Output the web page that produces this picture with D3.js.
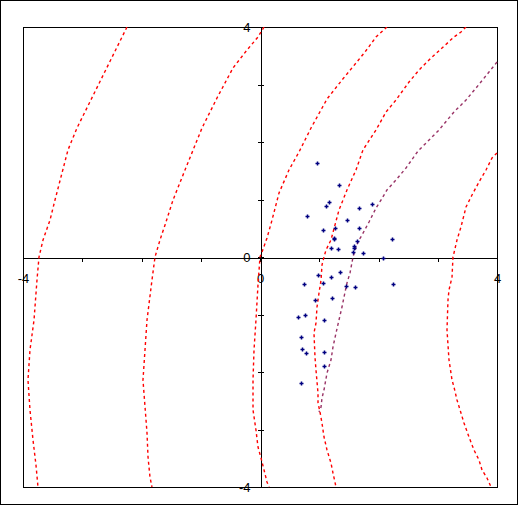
<!DOCTYPE html>
<html><head><meta charset="utf-8">
<script src="https://cdn.jsdelivr.net/npm/d3@7"></script>
<style>html,body{margin:0;padding:0;background:#fff;}svg{display:block;}</style>
</head><body>
<script>
// ---- data ----
const tickValues = [-4,-3,-2,-1,0,1,2,3,4];
const tickLabels = ["-4","","","","0","","","","4"];
const pointsX = [0.965,1.335,1.167,1.117,1.891,1.672,0.797,1.470,1.066,1.268,1.672,1.251,1.251,2.228,1.638,1.588,1.588,1.200,1.318,1.571,1.739,2.076,0.982,1.200,1.352,0.746,1.066,1.453,1.605,2.245,1.217,0.931,0.645,0.763,1.083,0.696,0.712,0.780,1.083,1.083,0.696];
const pointsY = [1.630,1.247,0.951,0.882,0.917,0.847,0.708,0.638,0.464,0.499,0.499,0.335,0.305,0.308,0.273,0.186,0.151,0.151,0.134,0.082,0.064,-0.023,-0.318,-0.353,-0.266,-0.475,-0.457,-0.510,-0.527,-0.475,-0.718,-0.753,-1.049,-1.014,-1.101,-1.397,-1.605,-1.675,-1.657,-1.901,-2.197];
const curve1 = [[-2.245,4.0],[-3.089,2.243],[-3.241,1.861],[-3.460,0.991],[-3.544,0.643],[-3.662,0.296],[-3.730,0],[-3.764,-0.4],[-3.814,-1.096],[-3.882,-1.617],[-3.916,-2.139],[-3.882,-2.661],[-3.831,-3.183],[-3.781,-3.617],[-3.747,-4.0]];
const curve2 = [[0.068,4.0],[-0.034,3.826],[-0.219,3.6],[-0.456,3.287],[-0.726,2.765],[-0.979,2.243],[-1.266,1.513],[-1.468,0.991],[-1.603,0.557],[-1.688,0.296],[-1.772,0],[-1.823,-0.4],[-1.907,-1.096],[-1.941,-1.617],[-1.975,-2.139],[-1.907,-3.061],[-1.890,-3.478],[-1.857,-3.826],[-1.823,-4.0]];
const curve3 = [[2.143,4.0],[1.958,3.826],[1.772,3.565],[1.620,3.374],[1.384,3.078],[1.131,2.748],[0.861,2.243],[0.658,1.826],[0.489,1.513],[0.321,1.113],[0.203,0.643],[0.118,0.330],[0.034,0.087],[0,0],[-0.034,-0.487],[-0.068,-1.096],[-0.101,-1.617],[-0.118,-2.139],[-0.118,-2.661],[-0.068,-3.009],[-0.034,-3.304],[0.017,-3.496],[0.068,-3.704],[0.118,-3.913],[0.152,-4.0]];
const curve4 = [[3.477,4.0],[3.392,3.913],[3.274,3.826],[3.072,3.635],[2.852,3.426],[2.684,3.252],[2.515,3.043],[2.295,2.730],[2.127,2.522],[1.958,2.209],[1.738,1.861],[1.620,1.513],[1.468,1.165],[1.333,0.817],[1.198,0.296],[1.114,0.122],[1.080,0],[1.046,-0.139],[1.030,-0.4],[0.996,-0.626],[0.962,-0.870],[0.945,-1.148],[0.911,-1.322],[0.928,-1.739],[0.945,-1.965],[0.979,-2.365],[0.979,-2.539],[1.013,-2.696],[1.046,-2.887],[1.080,-3.130],[1.131,-3.357],[1.198,-3.583],[1.232,-3.757],[1.283,-4.0]];
const curve5 = [[4.0,3.391],[3.865,3.217],[3.646,2.939],[3.477,2.730],[3.274,2.522],[3.021,2.209],[2.667,1.843],[2.464,1.548],[2.295,1.339],[2.143,1.165],[2.042,0.991],[1.958,0.852],[1.840,0.609],[1.722,0.383],[1.671,0.296],[1.620,0.174],[1.570,0],[1.519,-0.278],[1.468,-0.452],[1.418,-0.696],[1.384,-0.870],[1.333,-1.096],[1.283,-1.322],[1.232,-1.565],[1.198,-1.791],[1.131,-2.017],[1.080,-2.313],[1.046,-2.452],[1.030,-2.609],[0.996,-2.696]];
const curve6 = [[4.0,1.809],[3.916,1.722],[3.814,1.513],[3.696,1.304],[3.578,1.078],[3.477,0.870],[3.392,0.522],[3.325,0.296],[3.274,0.070],[3.257,0],[3.241,-0.348],[3.190,-0.574],[3.173,-0.748],[3.156,-1.270],[3.190,-1.791],[3.241,-2.139],[3.274,-2.261],[3.325,-2.487],[3.392,-2.713],[3.443,-2.887],[3.527,-3.130],[3.612,-3.357],[3.696,-3.530],[3.747,-3.704],[3.831,-3.843],[3.899,-4.0]];
const curves = [curve1, curve2, curve3, curve5, curve4, curve6];
const curveColors = ["#ff0000","#ff0000","#ff0000","#993366","#ff0000","#ff0000"];

// ---- drawing ----
const W = 519, H = 506;
const svg = d3.select("body").append("svg").attr("width", W).attr("height", H);
svg.append("rect").attr("x",0.5).attr("y",0.5).attr("width",517).attr("height",504)
  .attr("fill","#fff").attr("stroke","#000").attr("stroke-width",1);

const x = d3.scaleLinear().domain([-4,4]).range([23,497]);
const y = d3.scaleLinear().domain([-4,4]).range([487,27]);

// frame
svg.append("rect").attr("x",x(-4)+0.5).attr("y",y(4)+0.5)
  .attr("width",x(4)-x(-4)).attr("height",y(-4)-y(4))
  .attr("fill","none").attr("stroke","#000").attr("stroke-width",1)
  .attr("shape-rendering","crispEdges");

const fmt = v => tickLabels[tickValues.indexOf(v)];
const font = "'Liberation Sans', Arial, sans-serif";

// x axis
const gx = svg.append("g").attr("transform",`translate(0,${y(0)+0.5})`)
  .call(d3.axisBottom(x).tickValues(tickValues).tickSize(4).tickSizeOuter(0).tickFormat(fmt));
gx.select(".domain").attr("stroke","#000").attr("shape-rendering","crispEdges");
gx.selectAll(".tick line").attr("stroke","#000").attr("shape-rendering","crispEdges");
gx.selectAll(".tick text").attr("y",21).attr("dy","0.35em")
  .attr("font-family",font).attr("font-size",13).attr("fill","#000");

// y axis
const gy = svg.append("g").attr("transform",`translate(${x(0)+0.5},0)`)
  .call(d3.axisLeft(y).tickValues(tickValues).tickSize(3).tickSizeOuter(0).tickFormat(fmt));
gy.select(".domain").attr("stroke","#000").attr("shape-rendering","crispEdges");
gy.selectAll(".tick line").attr("x1",3).attr("x2",-3).attr("stroke","#000").attr("shape-rendering","crispEdges");
gy.selectAll(".tick text").attr("x",-10).attr("dy","0.35em")
  .attr("font-family",font).attr("font-size",13).attr("fill","#000");

// curves
const line = d3.line().x(d => x(d[0])).y(d => y(d[1]));
svg.append("clipPath").attr("id","plotclip").append("rect")
  .attr("x",x(-4)).attr("y",y(4)).attr("width",x(4)-x(-4)+1).attr("height",y(-4)-y(4)+1);
svg.append("g").attr("clip-path","url(#plotclip)").selectAll("path.curve").data(curves).join("path")
  .attr("class","curve").attr("d",line).attr("fill","none")
  .attr("stroke",(d,i)=>curveColors[i]).attr("stroke-width",1.4)
  .attr("stroke-dasharray","3,3");

// points
const pts = pointsX.map((v,i)=>[v,pointsY[i]]);
svg.append("g").selectAll("path.pt").data(pts).join("path")
  .attr("class","pt")
  .attr("transform",d=>`translate(${Math.round(x(d[0]))+0.5},${Math.round(y(d[1]))+0.5})`)
  .attr("d","M-2,0H2M0,-2V2").attr("stroke","#000080").attr("stroke-width",1.5).attr("fill","none");
</script>
</body></html>
